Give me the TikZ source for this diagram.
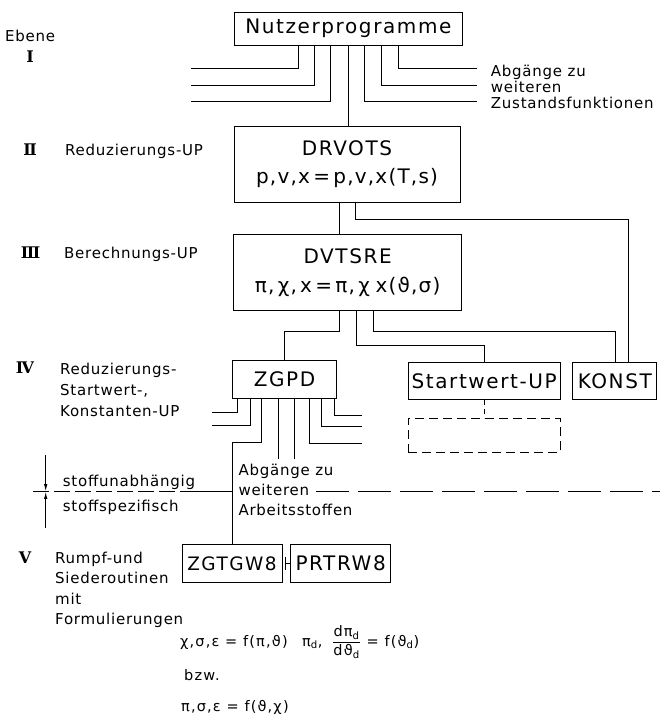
\documentclass[tikz,border=0pt]{standalone}
\usepackage{amsmath}
\usepackage{fontspec}
\setmainfont{DejaVu Sans}
\newfontfamily\boxfont[LetterSpace=8]{DejaVu Sans}
\newfontfamily\eqfont[LetterSpace=6]{DejaVu Sans}
\newfontfamily\labfont[LetterSpace=5]{DejaVu Sans}
\newfontfamily\formfont[LetterSpace=8]{DejaVu Sans}
\newfontfamily\romfont{DejaVu Serif}
\usetikzlibrary{arrows.meta}
\begin{document}
\begin{tikzpicture}[x=1pt,y=-1pt,
  box/.style={draw, line width=1pt, inner sep=0pt, align=center,
    font=\boxfont\fontsize{20}{28.5}\selectfont},
  conn/.style={line width=0.8pt},
  lab/.style={inner sep=0pt, align=left, font=\labfont\fontsize{15}{20}\selectfont},
  rom/.style={inner sep=0pt, font=\romfont\fontsize{16}{18}\selectfont\bfseries},
  form/.style={inner sep=0pt, anchor=base west, font=\formfont\fontsize{14.5}{17}\selectfont},
  dim/.style={line width=0.8pt, -{Latex[length=7pt,width=3.5pt]}}
]
\fill[white] (0,0) rectangle (660,716);
\useasboundingbox (0,0) rectangle (660,716);

% ---------- boxes ----------
\node[box, minimum width=228pt, minimum height=33pt] (nutzer) at (348.4,28.5) {Nutzerprogramme};
\node[box, minimum width=226pt, minimum height=76pt] (drvots) at (347,164) {DRVOTS\\{\eqfont p,v,x\,=\,p,v,x(T,s)}};
\node[box, minimum width=228pt, minimum height=76pt] (dvtsre) at (347.6,272.5) {DVTSRE\\{\eqfont π,\,χ,\,x\,=\,π,\,χ\;x(ϑ,σ)}};
\node[box, minimum width=104pt, minimum height=37.5pt] (zgpd) at (284.5,379.7) {ZGPD};
\node[box, minimum width=152pt, minimum height=36.6pt] (startwert) at (484.2,381) {Startwert-UP};
\node[box, minimum width=84pt, minimum height=36.6pt] (konst) at (614.8,381) {KONST};
\node[box, dash pattern=on 9pt off 5pt, minimum width=152pt, minimum height=34pt] (platz) at (484.2,435.3) {};
\node[box, minimum width=100pt, minimum height=38pt, font=\boxfont\fontsize{18.5}{22}\selectfont] (zgtgw) at (232,563.5) {ZGTGW8};
\node[box, minimum width=100pt, minimum height=38pt] (prtrw) at (340.7,563.5) {PRTRW8};

% ---------- free ends ----------
\coordinate (la) at (190.7,68.5);
\coordinate (lb) at (190.7,85);
\coordinate (lc) at (190.7,101.7);
\coordinate (ra) at (476.7,68.5);
\coordinate (rb) at (476.7,85);
\coordinate (rc) at (476.7,101.7);
\coordinate (za) at (211.7,412.7);
\coordinate (zb) at (211.7,425.7);
\coordinate (zd) at (278.3,459);
\coordinate (ze) at (294,459);
\coordinate (zf) at (361.7,443.3);
\coordinate (zg) at (361.7,426.7);
\coordinate (zh) at (361.7,415);

% ---------- connectors level I ----------
\draw[conn] ([xshift=-50.1pt]nutzer.south) |- (la);
\draw[conn] ([xshift=-34.1pt]nutzer.south) |- (lb);
\draw[conn] ([xshift=-17.7pt]nutzer.south) |- (lc);
\draw[conn] (nutzer.south) -- (nutzer.south |- drvots.north);
\draw[conn] ([xshift=15.9pt]nutzer.south) |- (rc);
\draw[conn] ([xshift=33.3pt]nutzer.south) |- (rb);
\draw[conn] ([xshift=49.9pt]nutzer.south) |- (ra);

% ---------- level II ----------
\draw[conn] ([xshift=-7.7pt]drvots.south) -- ([xshift=-8.3pt]dvtsre.north);
\draw[conn] ([xshift=8.7pt]drvots.south) -- ++(0,16.8) -| ([xshift=13.2pt]konst.north);

% ---------- level III ----------
\draw[conn] ([xshift=-8.3pt]dvtsre.south) -- ++(0,20) -| (zgpd.north);
\draw[conn] ([xshift=9.1pt]dvtsre.south) -- ++(0,34) -| (startwert.north);
\draw[conn] ([xshift=25.7pt]dvtsre.south) -- ++(0,20.7) -| ([xshift=1pt]konst.north);
\draw[conn, dash pattern=on 5pt off 4pt] (startwert.south) -- (platz.north);

% ---------- level IV ----------
\draw[conn] ([xshift=-47.2pt]zgpd.south) |- (za);
\draw[conn] ([xshift=-34.5pt]zgpd.south) |- (zb);
\draw[conn] ([xshift=-22.8pt]zgpd.south) -- ++(0,43.3) -| (zgtgw.north);
\draw[conn] ([xshift=-6.2pt]zgpd.south) -- (zd);
\draw[conn] ([xshift=9.5pt]zgpd.south) -- (ze);
\draw[conn] ([xshift=24.5pt]zgpd.south) |- (zf);
\draw[conn] ([xshift=37.2pt]zgpd.south) |- (zg);
\draw[conn] ([xshift=49.5pt]zgpd.south) |- (zh);

% ---------- level V ----------
\draw[conn] (prtrw.west) -- ++(-5,0) coordinate (tick);
\draw[conn] ([yshift=7pt]tick) -- ([yshift=-6pt]tick);

% ---------- separator ----------
\draw[conn, dash pattern=on 16pt off 5pt] (33,491.5) -- (195,491.5);
\draw[conn] (195,491.5) -- (231.7,491.5);
\draw[conn, dash pattern=on 33pt off 9pt] (316,491.5) -- (660,491.5);
\draw[dim] (45.7,455) -- (45.7,491.1);
\draw[dim] (45.7,528.3) -- (45.7,491.9);

% ---------- labels ----------
\node[lab, anchor=base west] (ebene) at (5,41.5) {Ebene};
\node[rom] (r1) at (30,57) {Ⅰ};
\node[rom] (r2) at (30,150) {Ⅱ};
\node[lab, anchor=base west] (l2) at (65,155.5) {Reduzierungs-UP};
\node[rom] (r3) at (30.7,253) {Ⅲ};
\node[lab, anchor=base west] (l3) at (64,258.5) {Berechnungs-UP};
\node[rom] (r4) at (25,368) {Ⅳ};
\node[lab, anchor=north west, font=\labfont\fontsize{15}{21.3}\selectfont] (l4) at (60,362.5) {Reduzierungs-\\Startwert-,\\Konstanten-UP};
\node[rom] (r5) at (25,557.5) {Ⅴ};
\node[lab, anchor=north west, font=\labfont\fontsize{15}{20.5}\selectfont] (l5) at (55,551.5) {Rumpf-und\\Siederoutinen\\mit\\Formulierungen};
\node[lab, anchor=base west] (su) at (62.7,486.5) {stoffunabhängig};
\node[lab, anchor=base west] (ss) at (62.7,511.5) {stoffspezifisch};
\node[lab, anchor=north west] (ab1) at (238.3,464) {Abgänge zu\\weiteren\\Arbeitsstoffen};
\node[lab, anchor=north west, font=\labfont\fontsize{15}{16.3}\selectfont] (ab2) at (490.7,64.5) {Abgänge zu\\weiteren\\Zustandsfunktionen};

% ---------- formulas ----------
\node[form] (f1) at (180,646) {χ,σ,ε = f(π,ϑ)\quad π$_{\text{d}}$,\; $\dfrac{\text{dπ}_{\text{d}}}{\text{dϑ}_{\text{d}}}$ = f(ϑ$_{\text{d}}$)};
\node[form] (f2) at (184,680) {bzw.};
\node[form] (f3) at (181,711) {π,σ,ε = f(ϑ,χ)};
\end{tikzpicture}
\end{document}
